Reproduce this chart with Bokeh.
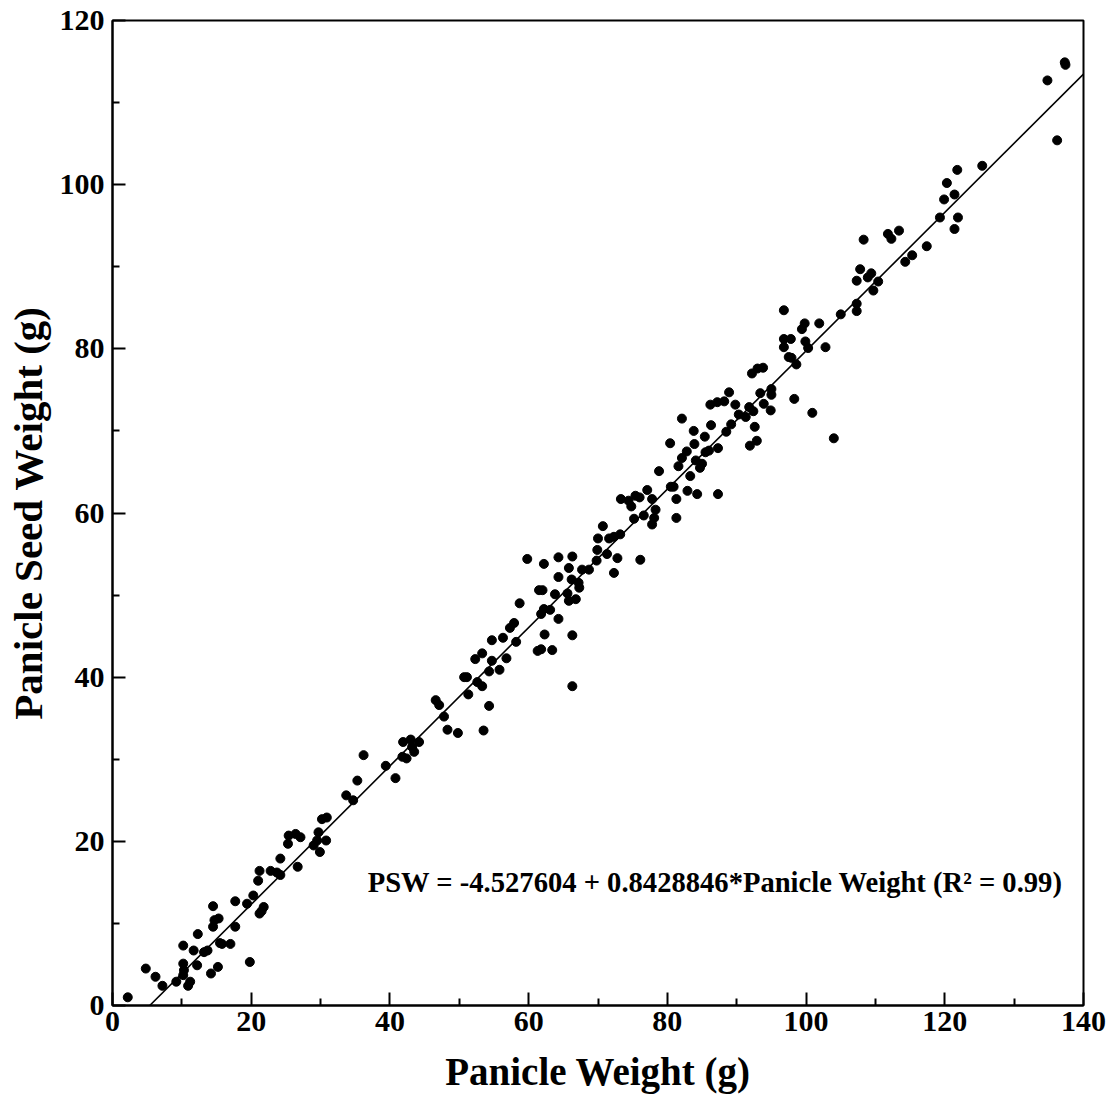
from bokeh.plotting import figure
from bokeh.models import ColumnDataSource, FixedTicker, Range1d
from bokeh.core.properties import value
from bokeh.embed import file_html
from bokeh.resources import INLINE

panicle_weight = [
    2.2, 4.8, 6.2, 7.2, 9.2, 10.2, 10.3, 10.2, 10.9, 11.2, 10.2, 12.2, 11.7, 12.3, 13.2, 13.7,
    14.2, 15.2, 14.5, 14.7, 15.3, 14.5, 15.5, 15.8, 17.0, 17.7, 17.7, 19.4, 19.8, 20.3, 21.0,
    21.2, 21.2, 21.8, 21.5, 22.8, 23.7, 24.2, 24.2, 25.3, 25.4, 26.4, 27.1, 26.7, 29.0, 29.7,
    29.5, 29.9, 30.8, 30.2, 30.9, 33.7, 34.7, 35.3,
    36.2, 39.4, 40.8, 41.9, 41.8, 42.4, 43.0, 43.2, 43.5, 44.2, 46.6, 47.1, 47.8, 48.3, 49.8,
    51.3, 50.7, 51.1, 52.6, 53.3, 52.3, 53.3, 54.7, 54.3, 55.8, 54.3, 53.5, 54.7, 56.3, 56.8,
    58.2, 57.3, 57.9, 58.7, 62.0, 63.8, 62.2, 63.1, 61.8, 64.3, 62.3, 61.3, 61.8, 63.4, 66.3,
    66.3, 65.6, 65.8, 66.8, 66.2, 61.5,
    59.8, 62.2, 64.3, 66.3, 65.8, 64.3, 67.2, 67.3, 67.7, 68.7, 69.8, 69.9, 70.0, 70.7, 71.3,
    71.6, 72.3, 72.8, 72.3, 73.2, 76.1, 73.3, 74.4, 74.8, 75.4, 76.0, 77.1, 75.2, 76.6, 77.8,
    78.3, 78.1, 77.8, 80.5, 80.9, 78.8, 81.3, 81.3, 81.6, 82.1, 82.8, 80.4, 83.3, 82.9, 84.3,
    84.7, 84.1, 83.9, 83.8, 85.0, 85.4, 85.5, 86.0, 87.3, 87.3, 86.3, 82.1, 86.2, 87.2, 88.2,
    88.9, 88.5, 89.2, 89.8, 90.3, 91.3, 91.8, 92.4, 92.6, 91.9, 92.9, 93.4, 95.0, 95.0, 93.9,
    94.9, 98.3, 100.9,
    121.8, 125.4, 120.3, 119.9, 121.4, 119.3, 121.9, 121.4, 108.3, 111.8, 112.3, 113.4, 114.3,
    115.3, 117.4, 107.8, 107.3, 108.9, 109.4, 110.4, 109.7, 107.3, 107.3, 105.0, 96.8, 99.4,
    99.8, 101.9, 96.8, 97.8, 96.8, 99.9, 100.3, 102.8, 97.5, 97.9, 98.6, 92.2, 93.0, 93.8,
    104.0, 134.8, 137.3, 137.4, 136.2,
]
panicle_seed_weight = [
    1.0, 4.5, 3.5, 2.4, 2.9, 5.1, 4.3, 3.7, 2.4, 2.9, 7.3, 4.9, 6.7, 8.7, 6.5, 6.7,
    3.9, 4.7, 9.6, 10.4, 10.6, 12.1, 7.6, 7.5, 7.5, 9.6, 12.7, 12.4, 5.3, 13.4, 15.2,
    16.4, 11.2, 12.0, 11.5, 16.4, 16.2, 15.9, 17.9, 19.7, 20.7, 20.9, 20.5, 16.9, 19.5, 21.1,
    20.1, 18.7, 20.1, 22.7, 22.9, 25.6, 25.0, 27.4,
    30.5, 29.2, 27.7, 32.1, 30.3, 30.1, 32.4, 31.5, 30.9, 32.1, 37.2, 36.6, 35.2, 33.6, 33.2,
    37.9, 40.0, 40.0, 39.4, 38.9, 42.2, 42.9, 42.0, 40.7, 40.9, 36.5, 33.5, 44.5, 44.8, 42.3,
    44.3, 46.0, 46.6, 49.0, 50.6, 50.1, 48.3, 48.2, 47.7, 47.1, 45.2, 43.2, 43.4, 43.3, 45.1,
    38.9, 50.2, 49.3, 49.5, 51.9, 50.6,
    54.4, 53.8, 54.6, 54.7, 53.3, 52.2, 51.5, 50.9, 53.1, 53.1, 54.2, 55.5, 56.9, 58.4, 55.0,
    56.9, 57.1, 54.5, 52.7, 57.4, 54.3, 61.7, 61.5, 60.8, 62.1, 61.9, 62.8, 59.3, 59.7, 61.7,
    60.4, 59.4, 58.6, 63.2, 63.2, 65.1, 61.7, 59.4, 65.7, 66.7, 67.5, 68.5, 64.5, 62.7, 62.3,
    65.5, 66.4, 68.4, 70.0, 66.0, 69.3, 67.4, 67.6, 67.9, 62.3, 70.7, 71.5, 73.2, 73.5, 73.6,
    74.7, 69.9, 70.8, 73.2, 72.0, 71.7, 72.9, 72.4, 70.5, 68.2, 68.8, 74.6, 75.1, 74.4, 73.3,
    72.5, 73.9, 72.2,
    101.8, 102.3, 100.2, 98.2, 98.8, 96.0, 96.0, 94.6, 93.3, 94.0, 93.4, 94.4, 90.6,
    91.4, 92.5, 89.7, 88.3, 88.7, 89.2, 88.2, 87.1, 85.5, 84.6, 84.2, 84.7, 82.4,
    83.1, 83.1, 81.2, 81.2, 80.2, 80.9, 80.1, 80.2, 79.0, 78.9, 78.1, 77.0, 77.6, 77.7,
    69.1, 112.7, 114.9, 114.6, 105.4,
]

intercept = -4.527604
slope = 0.8428846
equation_label = "PSW = -4.527604 + 0.8428846*Panicle Weight (R\u00b2 = 0.99)"
x_ticks = [0, 20, 40, 60, 80, 100, 120, 140]
y_ticks = [0, 20, 40, 60, 80, 100, 120]

FONT = "Liberation Serif"

p = figure(width=1118, height=1099, output_backend="svg", toolbar_location=None,
           x_range=Range1d(0, 140), y_range=Range1d(0, 120),
           min_border_left=112, min_border_right=35, min_border_top=20, min_border_bottom=94,
           background_fill_color="white", border_fill_color="white")
p.grid.visible = False
p.outline_line_color = "black"
p.outline_line_width = 2

for ax, ticks in ((p.xaxis[0], x_ticks), (p.yaxis[0], y_ticks)):
    minor = [t + 10 for t in ticks[:-1]]
    ax.ticker = FixedTicker(ticks=ticks, minor_ticks=minor)
    ax.axis_line_width = 2
    ax.axis_line_color = "black"
    ax.major_tick_in = 13
    ax.major_tick_out = 0
    ax.minor_tick_in = 7
    ax.minor_tick_out = 0
    ax.major_tick_line_width = 2
    ax.minor_tick_line_width = 2
    ax.major_label_text_font = FONT
    ax.major_label_text_font_style = "bold"
    ax.major_label_text_font_size = "30px"
    ax.major_label_text_color = "black"
    ax.axis_label_text_font = FONT
    ax.axis_label_text_font_style = "bold"
    ax.axis_label_text_color = "black"

p.xaxis.axis_label = "Panicle Weight (g)"
p.yaxis.axis_label = "Panicle Seed Weight (g)"
p.xaxis.axis_label_text_font_size = "39px"
p.yaxis.axis_label_text_font_size = "41px"
p.xaxis.major_label_standoff = 6
p.yaxis.major_label_standoff = 8
p.xaxis.axis_label_standoff = 16
p.yaxis.axis_label_standoff = 6

src = ColumnDataSource(dict(x=panicle_weight, y=panicle_seed_weight))
p.scatter("x", "y", source=src, size=9, color="black")

x0 = -intercept / slope
x1 = 140
p.line([x0, x1], [intercept + slope * x0, intercept + slope * x1], line_color="black", line_width=1.6)

p.text(x=[36.8], y=[15.0], text=[equation_label], text_font=value(FONT), text_font_style="bold",
       text_font_size="28.6px", text_align="left", text_baseline="middle", text_color="black")

open("out.html", "w").write(file_html(p, INLINE))
